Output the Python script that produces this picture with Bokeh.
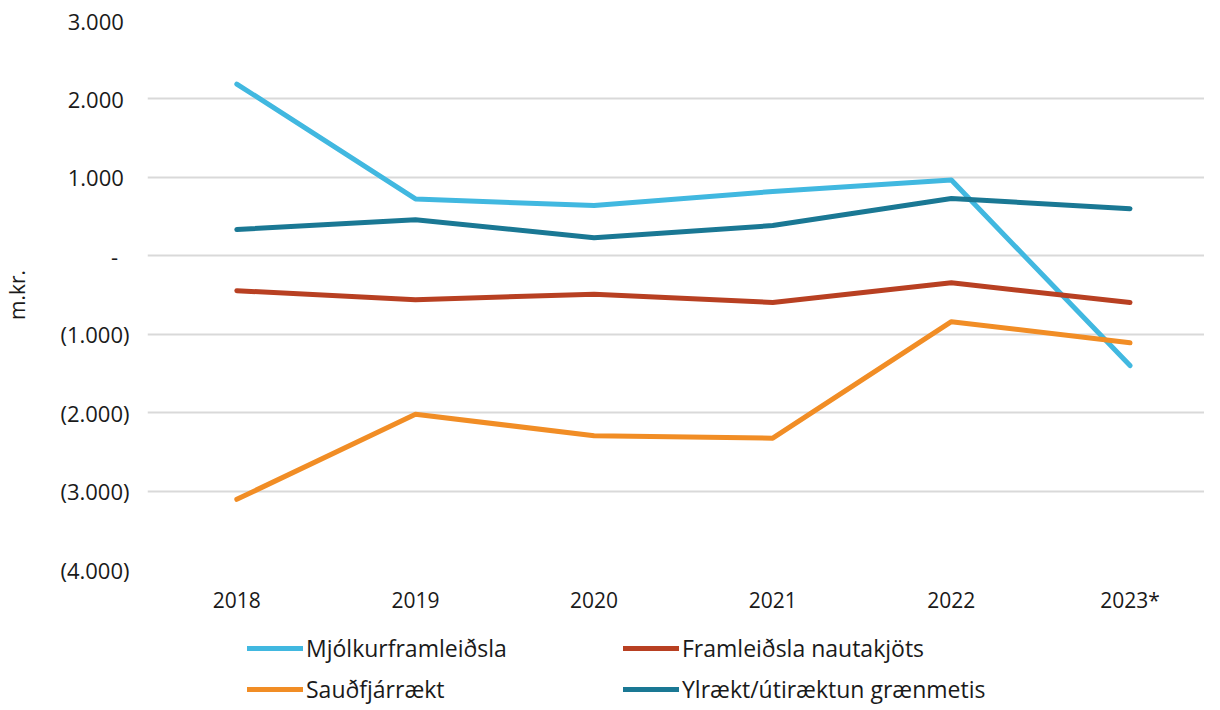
from bokeh.plotting import figure
from bokeh.layouts import column
from bokeh.models import (FixedTicker, CustomJSTickFormatter, Range1d, Legend, LegendItem)
from bokeh.embed import file_html
from bokeh.resources import INLINE

years = ["2018", "2019", "2020", "2021", "2022", "2023*"]
mjolk = [2190, 725, 640, 820, 965, -1400]
nauta = [-445, -560, -490, -595, -345, -595]
saud = [-3105, -2020, -2295, -2325, -840, -1110]
ylraekt = [335, 460, 230, 385, 730, 600]

series_names = ["Mjólkurframleiðsla", "Framleiðsla nautakjöts", "Sauðfjárrækt", "Ylrækt/útiræktun grænmetis"]
series_values = [mjolk, nauta, saud, ylraekt]
series_colors = ["#41B8E0", "#B84022", "#F18D25", "#1A7894"]

y_ticks = [-4000, -3000, -2000, -1000, 0, 1000, 2000, 3000]

FONT = "Open Sans"
TXT = "#1A1A1A"

xs = list(range(len(years)))

p = figure(width=1204, frame_height=549, output_backend="svg", toolbar_location=None,
           x_range=Range1d(-0.5, 5.417), y_range=Range1d(-4000, 3000),
           min_border_left=139, min_border_right=0, min_border_top=20, min_border_bottom=43)
p.outline_line_color = None
p.background_fill_color = "white"
p.border_fill_color = "white"

renderers = []
for name, vals, col in zip(series_names, series_values, series_colors):
    r = p.line(xs, vals, line_color=col, line_width=5, line_cap="round", line_join="round")
    renderers.append(r)

p.xaxis.ticker = FixedTicker(ticks=xs)
p.xaxis.major_label_overrides = {i: y for i, y in enumerate(years)}
p.yaxis.ticker = FixedTicker(ticks=y_ticks)
p.yaxis.formatter = CustomJSTickFormatter(code="""
const v = Math.round(tick);
if (v === 0) return "-\\u00a0\\u00a0";
const s = Math.abs(v).toString().replace(/\\B(?=(\\d{3})+(?!\\d))/g, ".");
return v < 0 ? "(" + s + ")" : s + "\\u00a0";
""")
for ax in (p.xaxis[0], p.yaxis[0]):
    ax.axis_line_color = None
    ax.major_tick_line_color = None
    ax.minor_tick_line_color = None
    ax.major_label_text_font = FONT
    ax.major_label_text_color = TXT
p.xaxis.major_label_text_font_size = "21px"
p.yaxis.major_label_text_font_size = "22px"
p.xaxis.major_label_standoff = 10
p.yaxis.major_label_standoff = 12
p.yaxis.axis_label = "m.kr."
p.yaxis.axis_label_text_font = FONT
p.yaxis.axis_label_text_font_size = "21px"
p.yaxis.axis_label_text_font_style = "normal"
p.yaxis.axis_label_text_color = TXT
p.yaxis.axis_label_standoff = 26

p.xgrid.grid_line_color = None
p.ygrid.grid_line_color = "#D9D9D9"
p.ygrid.grid_line_width = 2

# legend strip below the chart (its frame is aligned with the chart's frame)
lp = figure(width=1204, height=90, output_backend="svg", toolbar_location=None,
            x_range=Range1d(0, 1), y_range=Range1d(0, 1),
            min_border=0, min_border_left=0, min_border_right=0,
            min_border_top=0, min_border_bottom=0)
lp.outline_line_color = None
lp.axis.visible = False
lp.grid.visible = False
lp.border_fill_color = "white"

legend_pos = [(100, 42), (476, 42), (100, 1), (476, 1)]
for n, col, vals, loc in zip(series_names, series_colors, series_values, legend_pos):
    # single-vertex proxy renderer: draws nothing itself, only feeds the legend swatch
    r = lp.line(x=[xs[0]], y=[vals[0]], line_color=col, line_width=5, line_cap="round")
    lg = Legend(items=[LegendItem(label=n, renderers=[r])], location=loc)
    lg.label_text_font = FONT
    lg.label_text_font_size = "23px"
    lg.label_text_color = TXT
    lg.glyph_width = 56
    lg.glyph_height = 16
    lg.label_height = 16
    lg.label_standoff = 3
    lg.padding = 0
    lg.margin = 0
    lg.border_line_color = None
    lg.background_fill_alpha = 0
    lp.add_layout(lg)

layout = column(p, lp, spacing=0)
open("out.html", "w").write(file_html(layout, INLINE))
